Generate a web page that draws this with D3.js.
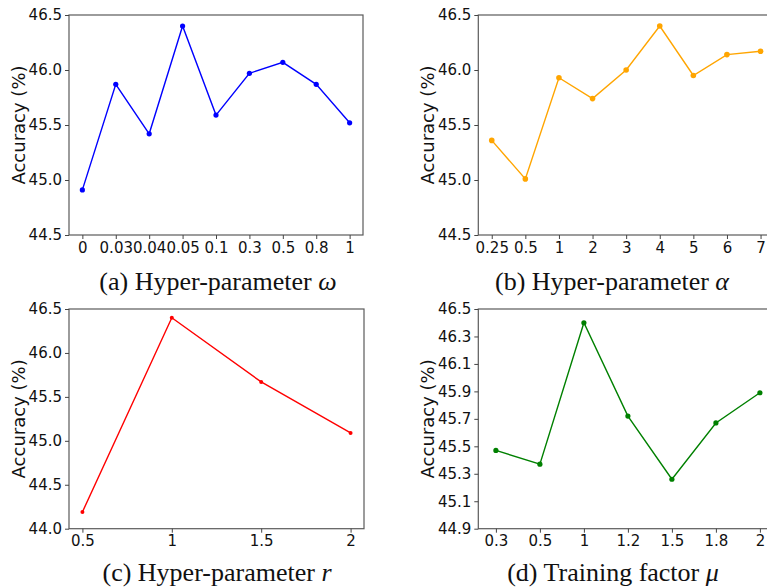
<!DOCTYPE html>
<html>
<head>
<meta charset="utf-8">
<script src="https://cdn.jsdelivr.net/npm/d3@7"></script>
<style>
    body { margin: 0; background: #fff; }
    svg { display: block; }
    .tick text { font-family: "DejaVu Sans", sans-serif; font-size: 15px; fill: #111; }
    .tick line { stroke: #444; }
    .ylabel { font-family: "DejaVu Sans", sans-serif; font-size: 18px; fill: #111; }
    .caption { font-family: "Liberation Serif", "Times New Roman", serif; font-size: 26px; fill: #111; }
</style>
</head>
<body>
<div class="figure"></div>
<script>
// (a) Hyper-parameter omega
const omegaLabels = ['0', '0.03', '0.04', '0.05', '0.1', '0.3', '0.5', '0.8', '1'];
const omegaAcc = [44.91, 45.87, 45.42, 46.40, 45.59, 45.97, 46.07, 45.87, 45.52];
const omegaTicks = [44.5, 45.0, 45.5, 46.0, 46.5];

// (b) Hyper-parameter alpha
const alphaLabels = ['0.25', '0.5', '1', '2', '3', '4', '5', '6', '7'];
const alphaAcc = [45.36, 45.01, 45.93, 45.74, 46.00, 46.40, 45.95, 46.14, 46.17];
const alphaTicks = [44.5, 45.0, 45.5, 46.0, 46.5];

// (c) Hyper-parameter r (numeric axis)
const rValues = [0.5, 1, 1.5, 2];
const rAcc = [44.19, 46.40, 45.67, 45.09];
const rTicks = [44.0, 44.5, 45.0, 45.5, 46.0, 46.5];

// (d) Training factor mu
const muLabels = ['0.3', '0.5', '1', '1.2', '1.5', '1.8', '2'];
const muAcc = [45.47, 45.37, 46.40, 45.72, 45.26, 45.67, 45.89];
const muTicks = [44.9, 45.1, 45.3, 45.5, 45.7, 45.9, 46.1, 46.3, 46.5];

const width = 767;
const height = 588;

const svg = d3.select('.figure').append('svg')
    .attr('width', width)
    .attr('height', height);

// draws one sub-plot: box, axes, line + markers, caption
function drawPanel(p) {
    const g = svg.append('g');

    const y = d3.scaleLinear()
        .domain([p.yTicks[0], p.yTicks[p.yTicks.length - 1]])
        .range([p.bottom, p.top]);

    let x, xs;
    if (p.numeric) {
        const ext = d3.extent(p.x);
        const pad = (ext[1] - ext[0]) * 0.05;
        x = d3.scaleLinear().domain([ext[0] - pad, ext[1] + pad]).range([p.left, p.right]);
        xs = p.x.map(v => x(v));
    } else {
        x = d3.scalePoint().domain(p.x).range([p.left, p.right]).padding(0.4);
        xs = p.x.map(v => x(v));
    }

    // frame
    g.append('rect')
        .attr('x', p.left)
        .attr('y', p.top)
        .attr('width', p.right - p.left)
        .attr('height', p.bottom - p.top)
        .attr('fill', 'none')
        .attr('stroke', '#5a5a5a')
        .attr('stroke-width', 1.2);

    const yAxis = d3.axisLeft(y)
        .tickValues(p.yTicks)
        .tickFormat(d3.format('.1f'))
        .tickSize(4)
        .tickPadding(3);
    const xAxis = (p.numeric ? d3.axisBottom(x).tickValues(p.x).tickFormat(d => String(d)) : d3.axisBottom(x))
        .tickSize(4)
        .tickPadding(3);

    g.append('g')
        .attr('transform', `translate(${p.left},0)`)
        .call(yAxis)
        .call(a => a.select('.domain').remove());

    g.append('g')
        .attr('transform', `translate(0,${p.bottom})`)
        .call(xAxis)
        .call(a => a.select('.domain').remove());

    const pts = p.acc.map((v, i) => [xs[i], y(v)]);

    g.append('path')
        .datum(pts)
        .attr('d', d3.line())
        .attr('fill', 'none')
        .attr('stroke', p.color)
        .attr('stroke-width', 1.4);

    g.selectAll('circle.pt')
        .data(pts)
        .enter()
        .append('circle')
        .attr('class', 'pt')
        .attr('cx', d => d[0])
        .attr('cy', d => d[1])
        .attr('r', p.r)
        .attr('fill', p.color);

    // y label
    g.append('text')
        .attr('class', 'ylabel')
        .attr('transform', `translate(${p.left - 44},${(p.top + p.bottom) / 2}) rotate(-90)`)
        .attr('text-anchor', 'middle')
        .text('Accuracy (%)');

    // caption
    const cap = g.append('text')
        .attr('class', 'caption')
        .attr('x', p.capX)
        .attr('y', p.capY)
        .attr('text-anchor', 'middle');
    cap.append('tspan').text(p.caption + ' ');
    cap.append('tspan').attr('font-style', 'italic').text(p.symbol);
}

drawPanel({
    x: omegaLabels, acc: omegaAcc, yTicks: omegaTicks, color: '#0000ff', r: 2.6,
    left: 69, right: 363, top: 15, bottom: 235,
    caption: '(a) Hyper-parameter', symbol: 'ω', capX: 218, capY: 290
});

drawPanel({
    x: alphaLabels, acc: alphaAcc, yTicks: alphaTicks, color: '#ffa500', r: 2.8,
    left: 478.3, right: 774, top: 15, bottom: 235,
    caption: '(b) Hyper-parameter', symbol: 'α', capX: 612, capY: 290
});

drawPanel({
    x: rValues, acc: rAcc, yTicks: rTicks, color: '#ff0000', r: 2, numeric: true,
    left: 69, right: 364, top: 309, bottom: 528.7,
    caption: '(c) Hyper-parameter', symbol: 'r', capX: 217, capY: 581
});

drawPanel({
    x: muLabels, acc: muAcc, yTicks: muTicks, color: '#008000', r: 2.6,
    left: 478.3, right: 777.5, top: 309, bottom: 528.7,
    caption: '(d) Training factor', symbol: 'μ', capX: 613, capY: 581
});
</script>
</body>
</html>
